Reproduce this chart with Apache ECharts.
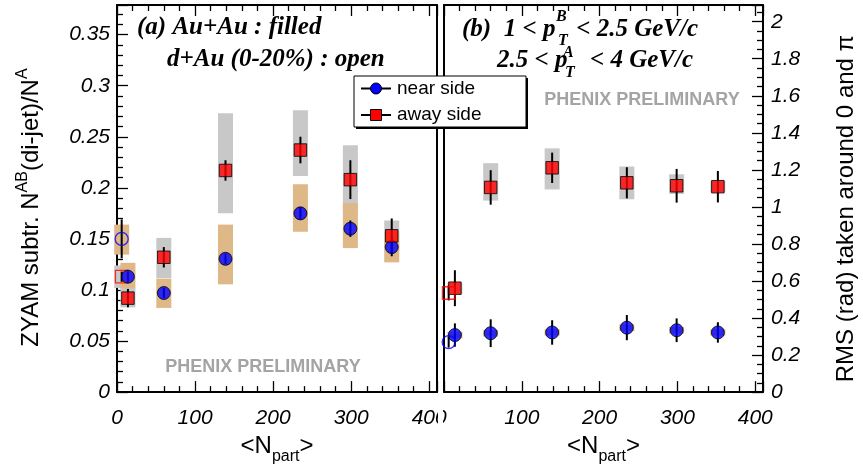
<!DOCTYPE html>
<html>
<head>
<meta charset="utf-8">
<script src="https://cdn.jsdelivr.net/npm/echarts@6.0.0/dist/echarts.min.js"></script>
<style>
  html, body { margin: 0; padding: 0; background: #fff; }
  #chart-container { width: 863px; height: 470px; }
</style>
</head>
<body>
<div id="chart-container"></div>
<script>
var dom = document.getElementById("chart-container");
var myChart = echarts.init(dom, null, { renderer: "canvas" });

// <Npart> of the Au+Au centrality bins and of d+Au 0-20%
const npartAuAu = [14, 60, 139, 235, 299, 352];
const npartDAu = [6];

// (a) ZYAM subtracted yields, Au+Au
const yieldNear = [0.113, 0.097, 0.1305, 0.175, 0.16, 0.142];
const yieldNearErr = [0.005, 0.005, 0.005, 0.006, 0.008, 0.009];
const yieldNearSysLo = [0.1016, 0.0824, 0.1055, 0.157, 0.141, 0.127];
const yieldNearSysHi = [0.1266, 0.111, 0.164, 0.2035, 0.185, 0.157];
const yieldAway = [0.092, 0.132, 0.217, 0.237, 0.208, 0.153];
const yieldAwayErr = [0.009, 0.01, 0.01, 0.013, 0.019, 0.017];
const yieldAwaySysLo = [0.083, 0.1115, 0.175, 0.2115, 0.175, 0.138];
const yieldAwaySysHi = [0.102, 0.151, 0.273, 0.276, 0.2416, 0.168];
// (a) d+Au
const yieldNearDAu = [0.15];
const yieldNearDAuErr = [0.019];
const yieldNearDAuSysLo = [0.1346];
const yieldNearDAuSysHi = [0.164];
const yieldAwayDAu = [0.113];
const yieldAwayDAuErr = [0.005];
const yieldAwayDAuSysLo = [0.102];
const yieldAwayDAuSysHi = [0.124];

// (b) RMS widths, Au+Au
const rmsNear = [0.308, 0.318, 0.322, 0.348, 0.334, 0.322];
const rmsNearErr = [0.063, 0.075, 0.066, 0.068, 0.064, 0.055];
const rmsNearSysLo = [0.29, 0.3, 0.305, 0.33, 0.316, 0.305];
const rmsNearSysHi = [0.326, 0.336, 0.339, 0.366, 0.352, 0.339];
const rmsAway = [0.561, 1.105, 1.211, 1.13, 1.114, 1.109];
const rmsAwayErr = [0.097, 0.093, 0.082, 0.084, 0.091, 0.085];
const rmsAwaySysLo = [0.53, 1.034, 1.094, 1.041, 1.07, 1.08];
const rmsAwaySysHi = [0.59, 1.236, 1.316, 1.218, 1.176, 1.14];
// (b) d+Au
const rmsNearDAu = [0.27];
const rmsNearDAuErr = [0.03];
const rmsAwayDAu = [0.535];
const rmsAwayDAuErr = [0.04];

const legendNames = ["near side", "away side"];

var SANS = "Liberation Sans";
var SERIF = "Liberation Serif";
var CAP = "bold italic 25px " + SERIF;
var IDX = "bold italic 16px " + SERIF;

function zip3(xs, a, b) {
  return xs.map(function (x, i) { return [x, a[i], b[i]]; });
}
function errData(xs, v, e) {
  return xs.map(function (x, i) { return [x, v[i] - e[i], v[i] + e[i]]; });
}
function pts(xs, v) {
  return xs.map(function (x, i) { return [x, v[i]]; });
}

function boxSeries(data, color, xi, yi) {
  return {
    type: "custom",
    xAxisIndex: xi,
    yAxisIndex: yi,
    clip: false,
    z: 2,
    silent: true,
    encode: { x: 0, y: [1, 2] },
    data: data,
    renderItem: function (params, api) {
      var top = api.coord([api.value(0), api.value(2)]);
      var bot = api.coord([api.value(0), api.value(1)]);
      var w = 15;
      return {
        type: "rect",
        shape: { x: top[0] - w / 2, y: top[1], width: w, height: bot[1] - top[1] },
        style: { fill: color },
      };
    },
  };
}

function errSeries(data, xi, yi) {
  return {
    type: "custom",
    xAxisIndex: xi,
    yAxisIndex: yi,
    clip: false,
    z: 3,
    silent: true,
    encode: { x: 0, y: [1, 2] },
    data: data,
    renderItem: function (params, api) {
      var top = api.coord([api.value(0), api.value(2)]);
      var bot = api.coord([api.value(0), api.value(1)]);
      return {
        type: "line",
        shape: { x1: top[0], y1: top[1], x2: bot[0], y2: bot[1] },
        style: { stroke: "#000", lineWidth: 2 },
      };
    },
  };
}

function markSeries(data, symbol, size, style, xi, yi) {
  return {
    type: "scatter",
    xAxisIndex: xi,
    yAxisIndex: yi,
    clip: false,
    z: 4,
    silent: true,
    symbol: symbol,
    symbolSize: size,
    itemStyle: style,
    data: data,
  };
}

var blueFill = { color: "#0000ff", borderColor: "#000", borderWidth: 1 };
var redFill = { color: "#ff0000", borderColor: "#000", borderWidth: 1 };
var blueOpen = { color: "rgba(0,0,0,0)", borderColor: "#0000ff", borderWidth: 1.3 };
var redOpen = { color: "rgba(0,0,0,0)", borderColor: "#ff0000", borderWidth: 1.3 };

var tickLabel = {
  fontFamily: SANS,
  fontStyle: "italic",
  fontSize: 21,
  color: "#000",
};

function xAxes(gridIndex, hideZero) {
  var common = {
    gridIndex: gridIndex,
    type: "value",
    min: 0,
    max: 410,
    interval: 100,
    splitLine: { show: false },
    axisLine: { show: true, onZero: false, lineStyle: { color: "#000", width: 2 } },
    axisTick: { show: true, inside: true, length: 11, lineStyle: { color: "#000", width: 1.3 } },
    minorTick: { show: true, splitNumber: 5, length: 6, lineStyle: { color: "#000", width: 1.3 } },
  };
  return [
    Object.assign({}, common, {
      position: "bottom",
      axisLabel: Object.assign({}, tickLabel, {
        margin: 16,
        showMaxLabel: false,
        formatter: function (v) { return hideZero && v === 0 ? "" : String(v); },
      }),
      name: "{m|<N}{s|part}{m|>}",
      nameLocation: "middle",
      nameGap: 33,
      nameTextStyle: {
        rich: {
          m: { fontFamily: SANS, fontSize: 24, color: "#000", lineHeight: 24, verticalAlign: "top" },
          s: { fontFamily: SANS, fontSize: 16, color: "#000", lineHeight: 46 },
        },
      },
    }),
    Object.assign({}, common, { position: "top", axisLabel: { show: false } }),
  ];
}

function borderAxis(gridIndex, pos, max) {
  return {
    gridIndex: gridIndex,
    type: "value",
    position: pos,
    min: 0,
    max: max,
    splitLine: { show: false },
    axisLine: { show: true, onZero: false, lineStyle: { color: "#000", width: 2 } },
    axisTick: { show: false },
    axisLabel: { show: false },
  };
}

function caption(x, y, text, font, align) {
  return {
    type: "text", z: 60, x: x, y: y,
    style: { text: text, font: font, fill: "#000", align: align || "left", verticalAlign: "middle" },
  };
}

var option = {
  animation: false,
  backgroundColor: "#fff",
  grid: [
    { left: 117, top: 5, width: 320, height: 394 },
    { left: 444, top: 5, width: 319, height: 394 },
  ],
  xAxis: xAxes(0, false).concat(xAxes(1, true)),
  yAxis: [
    {
      gridIndex: 0,
      type: "value",
      position: "left",
      min: 0,
      max: 0.379,
      interval: 0.05,
      splitLine: { show: false },
      axisLine: { show: true, onZero: false, lineStyle: { color: "#000", width: 2 } },
      axisTick: { show: true, inside: true, length: 11, lineStyle: { color: "#000", width: 1.3 } },
      minorTick: { show: true, splitNumber: 5, length: 6, lineStyle: { color: "#000", width: 1.3 } },
      axisLabel: Object.assign({}, tickLabel, { margin: 7, showMaxLabel: false }),
      name: "{m|ZYAM subtr. N}{u|AB}{m|(di-jet)/N}{u|A}",
      nameLocation: "middle",
      nameGap: 74,
      nameTextStyle: {
        padding: [0, 18, 0, 0],
        rich: {
          m: { fontFamily: SANS, fontSize: 24, color: "#000", lineHeight: 24, verticalAlign: "bottom" },
          u: { fontFamily: SANS, fontSize: 16, color: "#000", lineHeight: 40 },
        },
      },
    },
    borderAxis(0, "right", 0.379),
    {
      gridIndex: 1,
      type: "value",
      position: "right",
      min: 0,
      max: 2.09,
      interval: 0.2,
      splitLine: { show: false },
      axisLine: { show: true, onZero: false, lineStyle: { color: "#000", width: 2 } },
      axisTick: { show: true, inside: true, length: 11, lineStyle: { color: "#000", width: 1.3 } },
      minorTick: { show: true, splitNumber: 4, length: 6, lineStyle: { color: "#000", width: 1.3 } },
      axisLabel: Object.assign({}, tickLabel, { margin: 8, showMaxLabel: false }),
      name: "RMS (rad) taken around 0 and \u03c0",
      nameLocation: "middle",
      nameGap: 71,
      nameTextStyle: { fontFamily: SANS, fontSize: 24, color: "#000", padding: [0, 20, 0, 0] },
    },
    borderAxis(1, "left", 2.09),
  ],
  series: [
    // panel (a)
    boxSeries(zip3(npartAuAu, yieldAwaySysLo, yieldAwaySysHi), "#c8c8c8", 0, 0),
    boxSeries(zip3(npartDAu, yieldAwayDAuSysLo, yieldAwayDAuSysHi), "#c8c8c8", 0, 0),
    boxSeries(zip3(npartAuAu, yieldNearSysLo, yieldNearSysHi), "#deb887", 0, 0),
    boxSeries(zip3(npartDAu, yieldNearDAuSysLo, yieldNearDAuSysHi), "#deb887", 0, 0),
    errSeries(errData(npartAuAu, yieldNear, yieldNearErr), 0, 0),
    errSeries(errData(npartAuAu, yieldAway, yieldAwayErr), 0, 0),
    errSeries(errData(npartDAu, yieldNearDAu, yieldNearDAuErr), 0, 0),
    errSeries(errData(npartDAu, yieldAwayDAu, yieldAwayDAuErr), 0, 0),
    markSeries(pts(npartDAu, yieldNearDAu), "circle", 13, blueOpen, 0, 0),
    markSeries(pts(npartDAu, yieldAwayDAu), "rect", 12.5, redOpen, 0, 0),
    markSeries(pts(npartAuAu, yieldNear), "circle", 13, blueFill, 0, 0),
    markSeries(pts(npartAuAu, yieldAway), "rect", 12.5, redFill, 0, 0),
    // panel (b)
    boxSeries(zip3(npartAuAu, rmsAwaySysLo, rmsAwaySysHi), "#c8c8c8", 2, 2),
    boxSeries(zip3(npartAuAu, rmsNearSysLo, rmsNearSysHi), "#deb887", 2, 2),
    errSeries(errData(npartAuAu, rmsNear, rmsNearErr), 2, 2),
    errSeries(errData(npartAuAu, rmsAway, rmsAwayErr), 2, 2),
    errSeries(errData(npartDAu, rmsNearDAu, rmsNearDAuErr), 2, 2),
    errSeries(errData(npartDAu, rmsAwayDAu, rmsAwayDAuErr), 2, 2),
    markSeries(pts(npartAuAu, rmsNear), "circle", 13, blueFill, 2, 2),
    markSeries(pts(npartAuAu, rmsAway), "rect", 12.5, redFill, 2, 2),
    markSeries(pts(npartDAu, rmsNearDAu), "circle", 13, blueOpen, 2, 2),
    markSeries(pts(npartDAu, rmsAwayDAu), "rect", 12.5, redOpen, 2, 2),
  ],
  graphic: [
    // hide the overflow of the "400" label under the panel gap
    { type: "rect", z: 50, shape: { x: 438, y: 402, width: 5, height: 40 }, style: { fill: "#fff" } },
    // panel (a) caption
    caption(137, 28, "(a) Au+Au : filled", CAP),
    caption(167, 60, "d+Au (0-20%) : open", CAP),
    // panel (b) caption
    caption(462, 30, "(b)  1 < p", CAP),
    caption(556, 17, "B", IDX),
    caption(558, 41, "T", IDX),
    caption(698, 30, "< 2.5 GeV/c", CAP, "right"),
    caption(497, 61, "2.5 < p", CAP),
    caption(563, 53, "A", IDX),
    caption(565, 73, "T", IDX),
    caption(693, 61, "< 4 GeV/c", CAP, "right"),
    // preliminary tags
    { type: "text", z: 60, x: 263, y: 367,
      style: { text: "PHENIX PRELIMINARY", font: "bold 18px " + SANS, fill: "#a4a4a4", align: "center", verticalAlign: "middle" } },
    { type: "text", z: 60, x: 642, y: 100,
      style: { text: "PHENIX PRELIMINARY", font: "bold 18px " + SANS, fill: "#a4a4a4", align: "center", verticalAlign: "middle" } },
    // legend box with shadow
    { type: "rect", z: 70, shape: { x: 356, y: 78, width: 172, height: 51 }, style: { fill: "#000" } },
    { type: "rect", z: 71, shape: { x: 354, y: 76, width: 172, height: 51 }, style: { fill: "#fff", stroke: "#000", lineWidth: 1 } },
    { type: "line", z: 72, shape: { x1: 361, y1: 88.5, x2: 391, y2: 88.5 }, style: { stroke: "#000", lineWidth: 2 } },
    { type: "circle", z: 73, shape: { cx: 376, cy: 88.5, r: 5.5 }, style: { fill: "#0000ff", stroke: "#000", lineWidth: 1 } },
    { type: "text", z: 73, x: 397, y: 88.5,
      style: { text: legendNames[0], font: "19px " + SANS, fill: "#000", verticalAlign: "middle" } },
    { type: "line", z: 72, shape: { x1: 361, y1: 115, x2: 391, y2: 115 }, style: { stroke: "#000", lineWidth: 2 } },
    { type: "rect", z: 73, shape: { x: 370.5, y: 109.5, width: 11, height: 11 }, style: { fill: "#ff0000", stroke: "#000", lineWidth: 1 } },
    { type: "text", z: 73, x: 397, y: 115,
      style: { text: legendNames[1], font: "19px " + SANS, fill: "#000", verticalAlign: "middle" } },
  ],
};

if (option && typeof option === "object") {
  myChart.setOption(option);
}

window.addEventListener("resize", myChart.resize);
</script>
</body>
</html>
